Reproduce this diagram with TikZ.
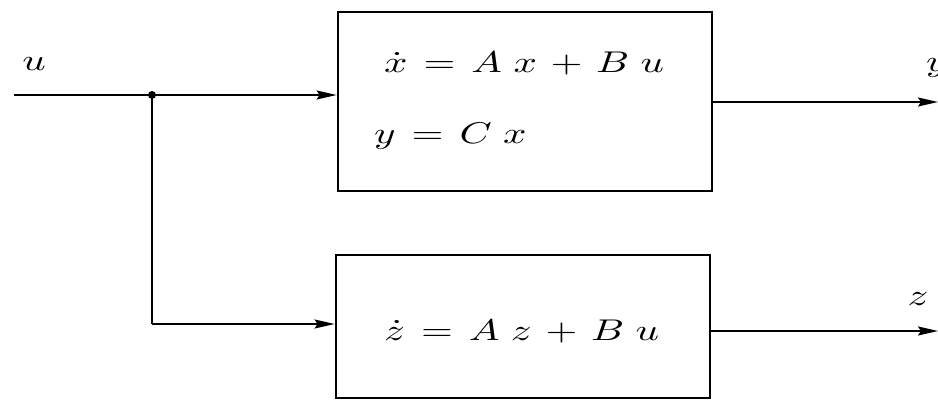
\documentclass[tikz,border=0pt]{standalone}
\usepackage{graphicx}
\usetikzlibrary{arrows.meta}
\newcommand{\bigmath}[1]{\scalebox{4.1}[3]{$\thickmuskip=7mu\medmuskip=6mu #1$}}
\newcommand{\gapm}{\mskip5mu}
\begin{document}
\begin{tikzpicture}[x=1pt,y=-1pt,
  blockbox/.style={draw,line width=2.8pt,rectangle,inner sep=0pt},
  sig/.style={line width=1.8pt},
  arr/.style={sig,-{Stealth[length=20pt,width=9pt,inset=3pt]}},
  eq/.style={anchor=base west,inner sep=0pt},
  lab/.style={inner sep=0pt}]
\useasboundingbox (0,0) rectangle (938,405);
\node[blockbox,minimum width=374pt,minimum height=179pt] (P) at (525,101.5) {};
\node[blockbox,minimum width=374pt,minimum height=143pt] (Q) at (523,326.5) {};
\node[eq] (e1) at (384,72) {\bigmath{\dot x = A\gapm x + B\gapm u}};
\node[eq] (e2) at (374,143) {\bigmath{y = C\gapm x}};
\node[eq] (e3) at (384,340) {\bigmath{\dot z = A\gapm z + B\gapm u}};
\coordinate (in) at (14,95);
\coordinate (J) at (152,95);
\coordinate (Jd) at (152,324);
\coordinate (yo) at (938,102);
\coordinate (zo) at (938,331);
\draw[sig] (in) -- (J);
\draw[arr] (J) -- (J -| P.west);
\draw[sig] (J) -- (Jd);
\draw[arr] (Jd) -- (Jd -| Q.west);
\draw[arr] (P.east |- yo) -- (yo);
\draw[arr] (Q.east |- zo) -- (zo);
\fill (J) circle (4pt);
\node[lab] (u) at (34,64) {\bigmath{u}};
\node[lab] (y) at (937,68) {\bigmath{y}};
\node[lab] (z) at (918,299) {\bigmath{z}};
\end{tikzpicture}
\end{document}
